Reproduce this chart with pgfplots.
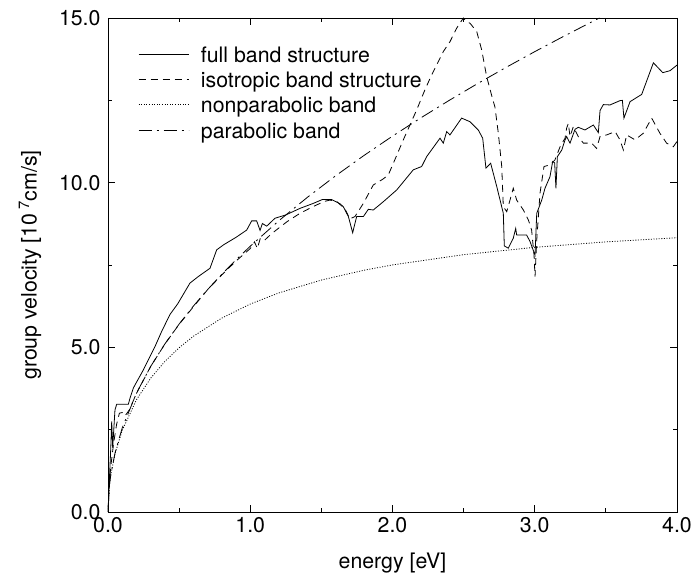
\documentclass[border=0pt]{standalone}
\usepackage{fontspec}
\setmainfont{TeX Gyre Heros}
\usepackage{pgfplots}
\pgfplotsset{compat=1.18}
\newcommand\ff{\fontsize{21.3}{25}\selectfont}
\begin{document}
\begin{tikzpicture}
\begin{axis}[
  scale only axis, width=569pt, height=494pt,
  xmin=0, xmax=4, ymin=0, ymax=15,
  xtick={0,1,2,3,4}, minor xtick={0.5,1.5,2.5,3.5},
  ytick={0,5,10,15}, minor ytick={2.5,7.5,12.5},
  tick align=inside, major tick length=7pt, minor tick length=4pt,
  every tick/.style={black, line width=0.8pt},
  axis line style={line width=0.9pt},
  /pgf/number format/assume math mode=true,
  /pgf/number format/fixed,
  /pgf/number format/fixed zerofill,
  /pgf/number format/precision=1,
  tick label style={font=\ff},
  yticklabel style={xshift=-4pt},
  xticklabel style={yshift=-1.5pt},
  label style={font=\ff},
  xlabel={energy [eV]},
  ylabel={group velocity [10\,\textsuperscript{7}cm/s]},
  xlabel style={at={(axis description cs:0.5,-0.1032)}, anchor=center},
  ylabel style={at={(axis description cs:-0.137,0.5)}, anchor=center},
  legend cell align=left,
  legend style={draw=none, fill=none, inner sep=0pt, outer sep=0pt, font=\ff,
    at={(axis description cs:0.053,0.939)}, anchor=north west,
    nodes={inner sep=0pt, text height=14pt, text depth=4pt},
    row sep=7.3pt, column sep=12pt},
  legend image code/.code={\draw[#1] (0pt,0.3em) -- (50pt,0.3em);},
]
\addplot[black, line width=0.8pt] coordinates {
(0,0) (0.01,1.0) (0.02,2.0) (0.026,2.75) (0.033,1.95) (0.049,3.10) (0.061,3.27) (0.143,3.27)
(0.155,3.46) (0.178,3.76) (0.19,3.86) (0.248,4.31) (0.33,5.02) (0.377,5.48) (0.436,6.0)
(0.49,6.32) (0.576,6.95) (0.635,7.15) (0.717,7.40) (0.764,7.96) (0.815,8.12) (0.9,8.34)
(0.975,8.56) (1.01,8.84) (1.045,8.84) (1.069,8.55) (1.085,8.76) (1.116,8.68) (1.174,8.92)
(1.25,9.02) (1.35,9.22) (1.443,9.37) (1.508,9.49) (1.57,9.49) (1.631,9.36) (1.654,9.27)
(1.69,8.97) (1.72,8.48) (1.748,8.97) (1.795,8.97) (1.83,9.19) (1.865,9.17) (1.935,9.42)
(2.03,9.78) (2.146,10.39) (2.205,10.49) (2.24,10.79) (2.334,11.35) (2.357,11.2) (2.381,11.55)
(2.404,11.45) (2.486,11.96) (2.545,11.85) (2.603,11.6) (2.634,11.35) (2.657,10.44) (2.69,10.59)
(2.733,9.88) (2.779,9.07) (2.786,8.08) (2.814,8.01) (2.849,8.31) (2.866,8.61) (2.873,8.41)
(2.943,8.41) (2.967,8.21) (3.002,7.8) (3.014,9.07) (3.049,9.47) (3.072,9.83) (3.107,10.18)
(3.126,10.64) (3.14,10.6) (3.149,9.83) (3.159,10.79) (3.19,10.99) (3.213,11.3) (3.224,11.4)
(3.248,11.2) (3.283,11.62) (3.306,11.68) (3.353,11.6) (3.412,11.75) (3.447,11.52) (3.459,12.19)
(3.482,12.37) (3.529,12.36) (3.599,12.49) (3.616,12.5) (3.627,11.96) (3.67,12.46) (3.752,12.68)
(3.834,13.64) (3.9,13.34) (3.951,13.4) (4.0,13.57)
};
\addlegendentry{full band structure}
\addplot[black, line width=0.8pt, dash pattern=on 7pt off 5pt] coordinates {
(0,0) (0.01,0.9) (0.02,1.4) (0.04,2.1) (0.06,2.65) (0.08,3.0) (0.1,3.02) (0.12,2.92) (0.15,3.1)
(0.2,3.6) (0.3,4.42) (0.4,5.1) (0.5,5.7) (0.6,6.23) (0.7,6.75) (0.8,7.2) (0.9,7.62) (1.0,8.0)
(1.03,8.2) (1.05,8.0) (1.07,8.3) (1.1,8.25) (1.15,8.45) (1.2,8.62) (1.26,8.82) (1.35,9.07)
(1.44,9.27) (1.52,9.43) (1.56,9.47) (1.61,9.42) (1.666,9.2) (1.70,8.9) (1.736,8.97) (1.795,9.37)
(1.865,9.93) (1.93,10.1) (1.97,10.23) (2.006,10.59) (2.076,11.3) (2.17,12.21) (2.228,12.82)
(2.275,13.27) (2.357,13.98) (2.404,14.28) (2.451,14.69) (2.498,15.0) (2.52,14.9) (2.545,14.84)
(2.592,14.59) (2.627,14.03) (2.662,13.22) (2.70,12.6) (2.72,12.3) (2.744,11.5) (2.768,10.49)
(2.779,9.27) (2.803,9.12) (2.826,9.47) (2.849,9.83) (2.873,9.47) (2.92,9.17) (2.955,8.87)
(2.978,8.56) (2.995,7.8) (3.002,7.15) (3.014,8.26) (3.037,9.68) (3.065,10.49) (3.107,10.54)
(3.142,10.69) (3.178,11.09) (3.213,11.35) (3.224,11.65) (3.236,11.8) (3.248,11.4) (3.271,11.7)
(3.306,11.4) (3.342,11.2) (3.40,11.2) (3.435,11.04) (3.459,11.4) (3.506,11.45) (3.565,11.55)
(3.599,11.3) (3.623,10.99) (3.646,11.45) (3.705,11.3) (3.763,11.5) (3.822,11.96) (3.88,11.5)
(3.927,11.2) (3.974,11.09) (4.0,11.25)
};
\addlegendentry{isotropic band structure}
\addplot[black, line width=0.8pt, dash pattern=on 1pt off 1.6pt] coordinates {
(0,0) (0.01,0.805) (0.02,1.135) (0.05,1.778) (0.1,2.478) (0.2,3.408) (0.3,4.063) (0.4,4.573)
(0.5,4.987) (0.6,5.335) (0.8,5.889) (1.0,6.314) (1.2,6.651) (1.5,7.043) (1.8,7.341) (2.0,7.502)
(2.5,7.814) (3.0,8.037) (3.5,8.202) (4.0,8.328)
};
\addlegendentry{nonparabolic band}
\addplot[black, line width=0.8pt, dash pattern=on 13pt off 5pt on 2pt off 5pt] coordinates {
(0,0) (0.01,0.807) (0.02,1.141) (0.05,1.804) (0.1,2.552) (0.2,3.609) (0.3,4.420) (0.4,5.104)
(0.5,5.706) (0.6,6.251) (0.7,6.752) (0.8,7.218) (0.9,7.656) (1.0,8.07) (1.2,8.840) (1.4,9.549)
(1.6,10.208) (1.8,10.827) (2.0,11.413) (2.2,11.970) (2.4,12.502) (2.6,13.013) (2.8,13.504)
(3.0,13.978) (3.2,14.436) (3.4,14.880) (3.455,15.0)
};
\addlegendentry{parabolic band}
\end{axis}
\pgfresetboundingbox
\path[use as bounding box] (-108pt,-65pt) rectangle (588pt,512pt);
\end{tikzpicture}
\end{document}
